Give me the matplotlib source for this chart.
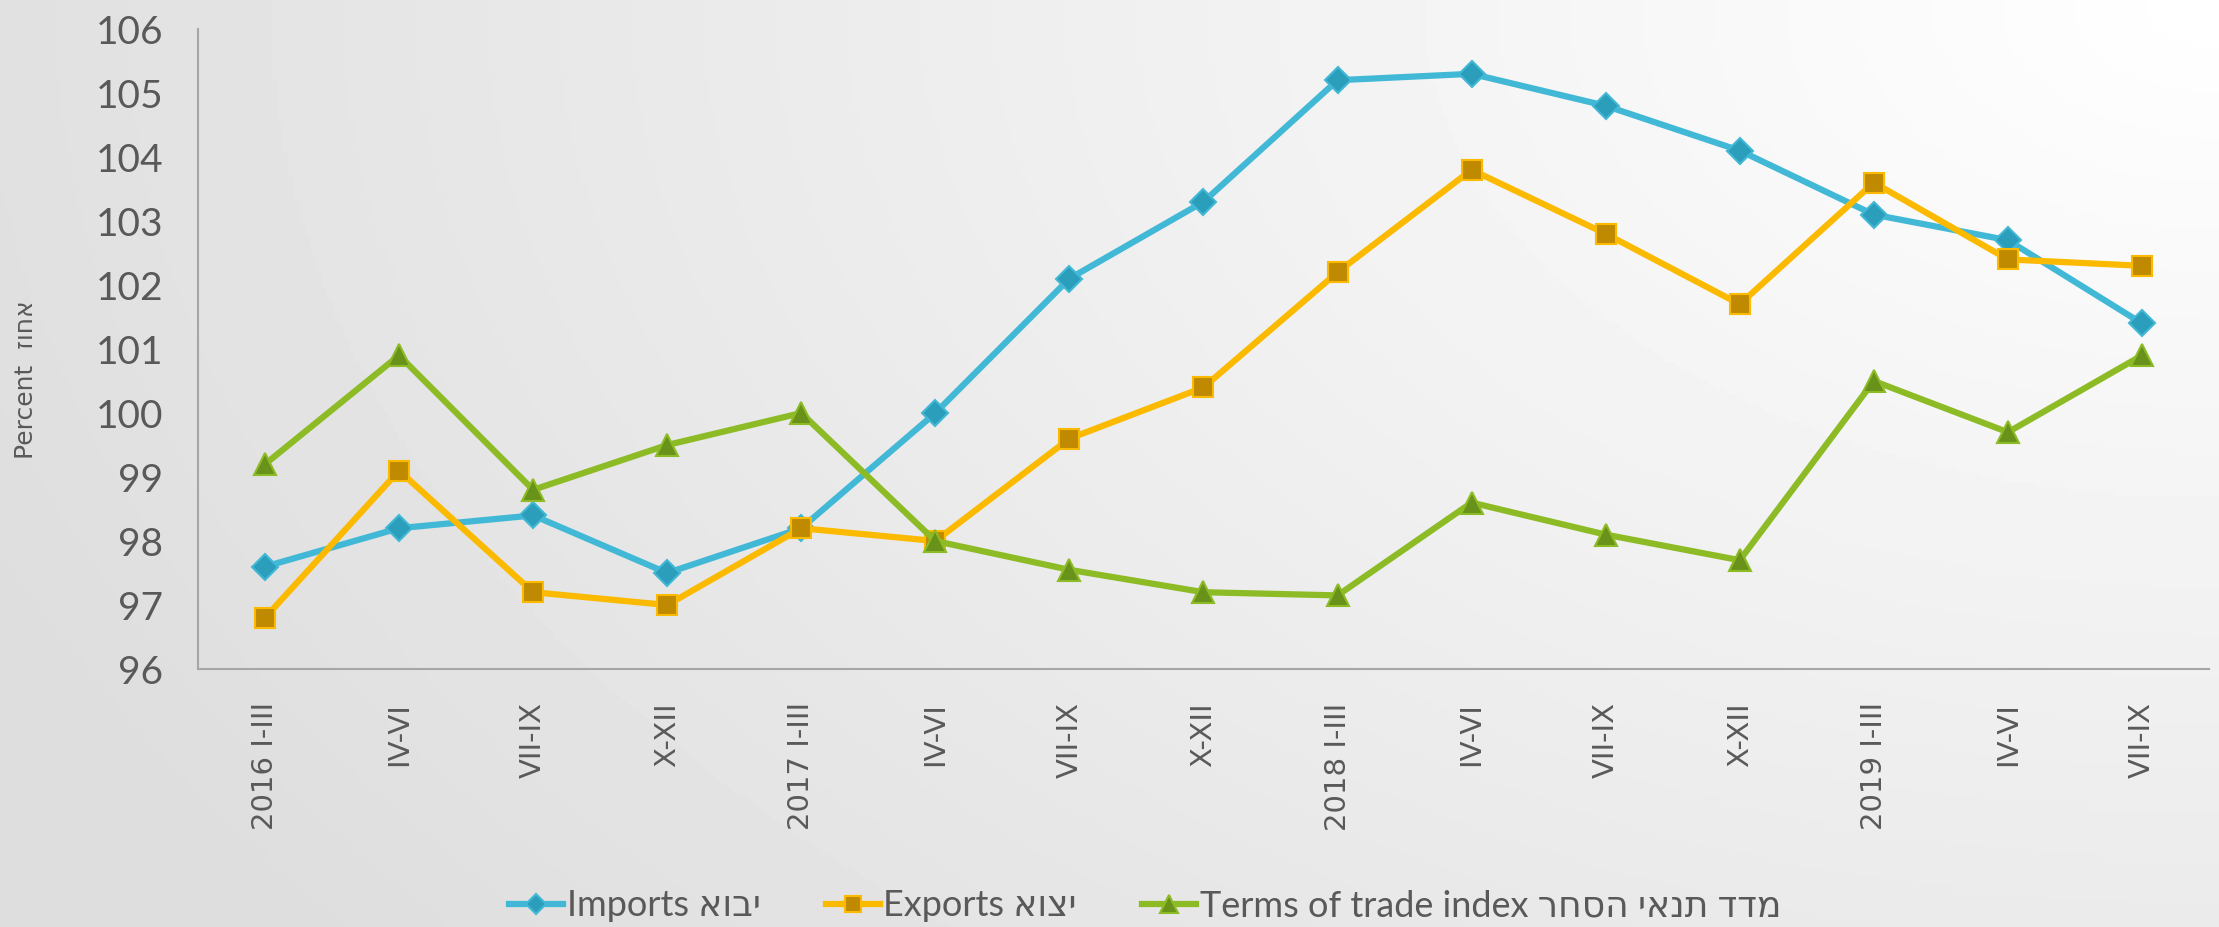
import numpy as np
import matplotlib
matplotlib.use('Agg')
import matplotlib.pyplot as plt

# quarters on the x axis
quarters = ['2016 I-III', 'IV-VI', 'VII-IX', 'X-XII',
            '2017 I-III', 'IV-VI', 'VII-IX', 'X-XII',
            '2018 I-III', 'IV-VI', 'VII-IX', 'X-XII',
            '2019 I-III', 'IV-VI', 'VII-IX']

imports = [97.6, 98.2, 98.4, 97.5, 98.2, 100.0, 102.1, 103.3,
           105.2, 105.3, 104.8, 104.1, 103.1, 102.7, 101.4]
exports = [96.8, 99.1, 97.2, 97.0, 98.2, 98.0, 99.6, 100.4,
           102.2, 103.8, 102.8, 101.7, 103.6, 102.4, 102.3]
terms = [99.2, 100.9, 98.8, 99.5, 100.0, 98.0, 97.55, 97.2,
         97.15, 98.6, 98.1, 97.7, 100.5, 99.7, 100.9]

# hebrew is written reversed because matplotlib draws left to right
labels = ['Imports ' + 'יבוא'[::-1],
          'Exports ' + 'יצוא'[::-1],
          'Terms of trade index ' + 'מדד תנאי הסחר'[::-1]]
y_label = 'Percent  ' + 'אחוז'[::-1]

fig = plt.figure(figsize=(22.19, 9.27), dpi=100)

# background: light in the top right, grey towards the bottom left
bg = fig.add_axes([0, 0, 1, 1], zorder=-10)
gx, gy = np.meshgrid(np.linspace(0, 1, 400), np.linspace(0, 1, 200))
dist = np.sqrt(((1 - gx) * 1.2) ** 2 + (gy * 0.8) ** 2)
shade = 1.0 - 0.13 * np.clip(dist / 1.3, 0, 1)
bg.imshow(shade, cmap='gray', vmin=0, vmax=1, aspect='auto', extent=[0, 1, 0, 1])
bg.axis('off')

ax = fig.add_axes([0.0892, 0.2783, 0.9063, 0.6904])
ax.patch.set_alpha(0)

x = np.arange(len(quarters))
styles = [
    (imports, '#41B8D5', '#2A9EBB', 'D', 13),
    (exports, '#FBBA00', '#C08A00', 's', 15),
    (terms, '#8DBB25', '#68921A', '^', 16),
]
for (vals, col, face, mk, ms), lab in zip(styles, labels):
    ax.plot(x, vals, color=col, linewidth=4.5, marker=mk, markersize=ms,
            markerfacecolor=face, markeredgecolor=col, markeredgewidth=1.5,
            label=lab)

ax.set_xlim(-0.5, len(quarters) - 0.5)
ax.set_ylim(96, 106)
ax.set_yticks(np.arange(96, 107, 1))
ax.set_xticks(x)
ax.set_xticklabels(quarters, rotation=90, fontsize=21, color='#595959',
                   family='DejaVu Sans')
for t in ax.get_yticklabels():
    t.set_fontsize(28)
    t.set_color('#595959')
    t.set_family('Lato')
ax.tick_params(axis='x', length=0, pad=24)
ax.tick_params(axis='y', length=0, pad=25)

for side in ['top', 'right']:
    ax.spines[side].set_visible(False)
for side in ['left', 'bottom']:
    ax.spines[side].set_color('#A6A6A6')
    ax.spines[side].set_linewidth(1.5)

fig.text(26 / 2219, 1 - 380 / 927, y_label, rotation=90, ha='center',
         va='center', fontsize=18, color='#595959',
         family=['DejaVu Sans'])

leg = fig.legend(loc='center', bbox_to_anchor=(1145 / 2219, 1 - 906 / 927),
                 ncol=3, frameon=False, handlelength=1.5, handletextpad=0.1,
                 columnspacing=1.8, markerscale=0.8,
                 prop={'family': ['Lato', 'DejaVu Sans'], 'size': 26})
for t in leg.get_texts():
    t.set_color('#595959')

fig.savefig('out.png', dpi=100)
